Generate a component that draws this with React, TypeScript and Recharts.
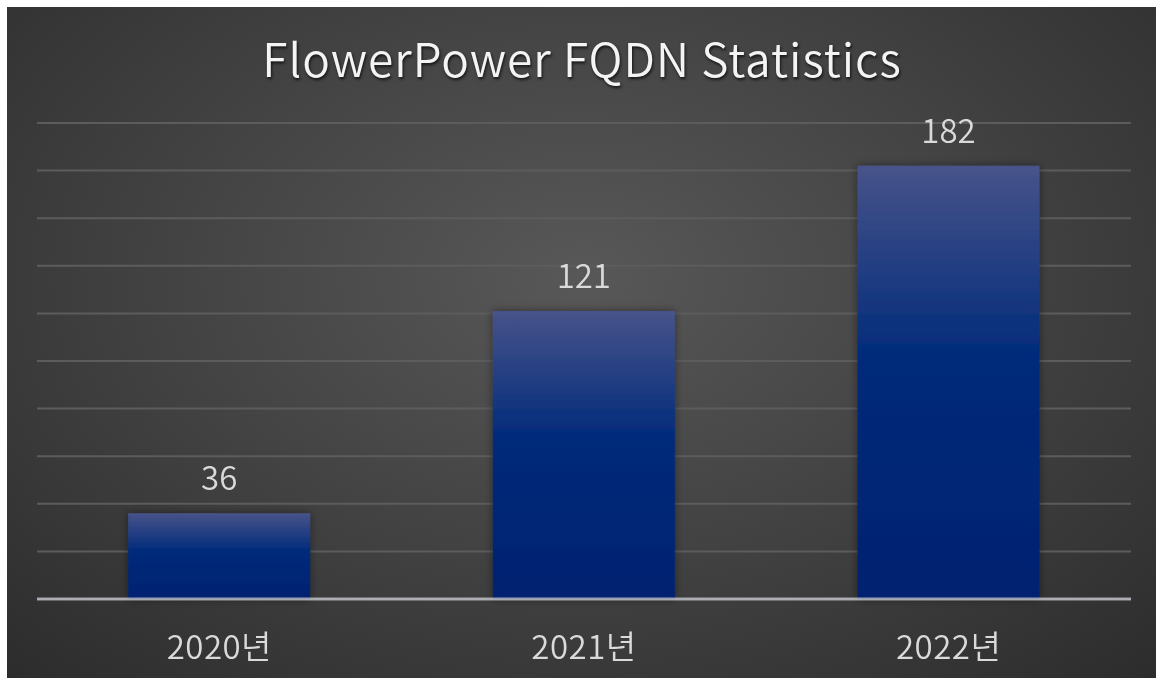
import React from 'react';
import {
  Bar,
  BarChart,
  CartesianGrid,
  LabelList,
  XAxis,
  YAxis,
  ReferenceLine
} from "recharts"

const YEARS = ['2020년', '2021년', '2022년']
const FQDN_COUNTS = [36, 121, 182]
const Y_TICKS = [0, 20, 40, 60, 80, 100, 120, 140, 160, 180, 200]

const FONT = '"Noto Sans CJK KR", "Noto Sans", sans-serif'

const ValueLabel = (props: any) => {
  const { x, y, width, value } = props
  return (
    <text
      x={x + width / 2}
      y={y - 23}
      textAnchor="middle"
      fill="#dadada"
      fontSize={33}
      fontWeight={350}
      fontFamily={FONT}
    >
      {value}
    </text>
  )
}

const YearTick = (props: any) => {
  const { x, y, payload } = props
  return (
    <text
      x={x}
      y={y + 52}
      textAnchor="middle"
      fill="#dadada"
      fontSize={33}
      fontWeight={350}
      fontFamily={FONT}
      letterSpacing={0.5}
    >
      {payload.value}
    </text>
  )
}

export default function App() {
  const data = YEARS.map((year, i) => ({ year, count: FQDN_COUNTS[i] }))

  return (
    <div
      style={{
        position: 'fixed',
        left: 7,
        top: 7,
        width: 1149,
        height: 671,
        background: 'radial-gradient(ellipse 75% 85% at 50% 40%, #585858 0%, #444444 45%, #2b2b2b 100%)',
        overflow: 'hidden'
      }}
    >
      <div
        style={{
          position: 'absolute',
          left: 0,
          top: 17,
          width: 1150,
          textAlign: 'center',
          fontFamily: FONT,
          fontSize: 46,
          fontWeight: 350,
          color: '#f4f4f4',
          letterSpacing: 1,
          textShadow: '1px 2px 3px rgba(0,0,0,0.7)',
          whiteSpace: 'nowrap'
        }}
      >
        FlowerPower FQDN Statistics
      </div>
      <BarChart
        width={1149}
        height={671}
        data={data}
        margin={{ top: 116, right: 25, left: 30, bottom: 0 }}
        barCategoryGap="25%"
        style={{ position: 'absolute', left: 0, top: 0 }}
      >
        <defs>
          <linearGradient id="barFill" x1="0" y1="0" x2="0" y2="1">
            <stop offset="0%" stopColor="#47538a" />
            <stop offset="45%" stopColor="#002a7a" />
            <stop offset="100%" stopColor="#002270" />
          </linearGradient>
          <filter id="barShadow" x="-10%" y="-10%" width="120%" height="120%">
            <feDropShadow dx="0" dy="0" stdDeviation="4" floodColor="#000" floodOpacity="0.45" />
          </filter>
        </defs>
        <CartesianGrid vertical={false} stroke="#5c5c5c" strokeWidth={2} />
        <XAxis
          dataKey="year"
          axisLine={false}
          tickLine={false}
          height={79}
          tick={<YearTick />}
          interval={0}
        />
        <YAxis hide domain={[0, 200]} ticks={Y_TICKS} />
        <Bar
          dataKey="count"
          fill="url(#barFill)"
          filter="url(#barShadow)"
          isAnimationActive={false}
        >
          <LabelList dataKey="count" content={<ValueLabel />} />
        </Bar>
        <ReferenceLine y={0} stroke="rgba(200,200,210,0.75)" strokeWidth={3} />
      </BarChart>
    </div>
  );
}
